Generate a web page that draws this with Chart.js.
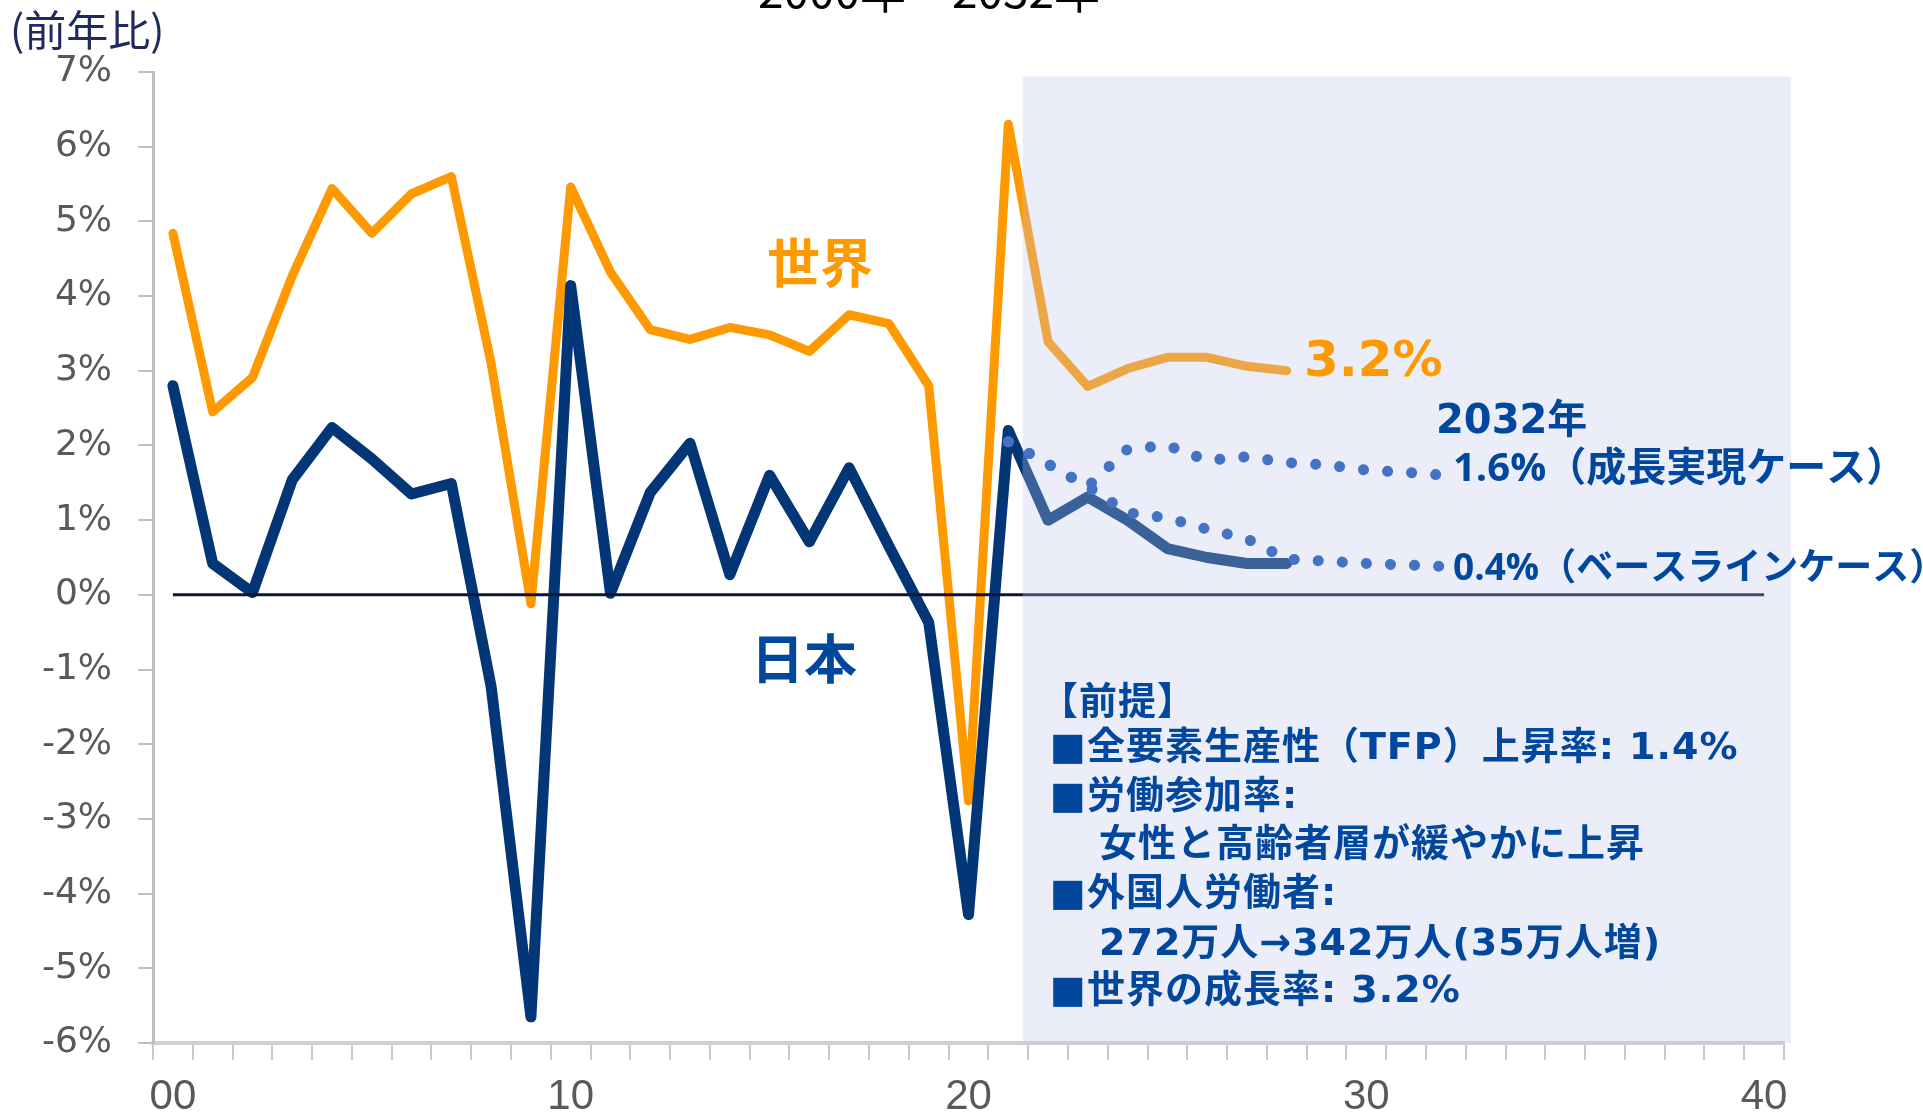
<!DOCTYPE html>
<html>
<head>
<meta charset="utf-8">
<script src="https://cdn.jsdelivr.net/npm/chart.js@4.4.1/dist/chart.umd.min.js"></script>
<style>
  html, body { margin: 0; padding: 0; background: #fff; }
</style>
</head>
<body>
<canvas id="chart" width="1923" height="1120"></canvas>
<script>
// categories: one per year, labelled every 10 years
const years = [2000, 2001, 2002, 2003, 2004, 2005, 2006, 2007, 2008, 2009,
  2010, 2011, 2012, 2013, 2014, 2015, 2016, 2017, 2018, 2019,
  2020, 2021, 2022, 2023, 2024, 2025, 2026, 2027, 2028, 2029,
  2030, 2031, 2032, 2033, 2034, 2035, 2036, 2037, 2038, 2039, 2040];
const xTickYears = [2000, 2010, 2020, 2030, 2040];
const yTicks = [-6, -5, -4, -3, -2, -1, 0, 1, 2, 3, 4, 5, 6, 7];

// world growth 2000-2028 (%)
const worldStart = 2000;
const worldGrowth = [4.84, 2.45, 2.91, 4.27, 5.44, 4.84, 5.37, 5.6, 3.1, -0.12,
  5.46, 4.32, 3.55, 3.42, 3.58, 3.48, 3.26, 3.75, 3.63, 2.8,
  -2.76, 6.3, 3.39, 2.79, 3.03, 3.18, 3.18, 3.06, 3.0];

// japan growth 2000-2028 (%)
const japanStart = 2000;
const japanGrowth = [2.8, 0.42, 0.03, 1.54, 2.24, 1.82, 1.35, 1.49, -1.23, -5.65,
  4.14, 0.02, 1.37, 2.03, 0.27, 1.6, 0.71, 1.7, 0.65, -0.37,
  -4.28, 2.2, 1.0, 1.31, 1.0, 0.62, 0.5, 0.42, 0.42];

// 2021-2032 scenarios (%)
const caseStart = 2021;
const growthCase = [2.05, 1.75, 1.45, 1.95, 2.0, 1.8, 1.85, 1.77, 1.74, 1.67, 1.64, 1.6];
const baselineCase = [2.05, 1.75, 1.45, 1.1, 1.03, 0.88, 0.75, 0.48, 0.45, 0.42, 0.4, 0.38];

const zeroLine = years.map(() => 0);

function onYears(start, values) {
  return years.map(y => {
    const i = y - start;
    return (i >= 0 && i < values.length) ? values[i] : null;
  });
}

const JP_FONT = '"Noto Sans CJK JP", "Noto Sans", sans-serif';
const MIX_FONT = '"Open Sans", "Noto Sans CJK JP", sans-serif';
const WIDE_FONT = '"DejaVu Sans", "Noto Sans CJK JP", sans-serif';
const NOTE_BLUE = '#00479D';
const ORANGE = '#FF9900';

// shaded forecast box, in scale units
const boxX0 = 21.36, boxX1 = 40.68, boxYTop = 6.94, boxYBottom = -6;

function text(ctx, s, x, y, font, color, align) {
  ctx.font = font;
  ctx.fillStyle = color;
  ctx.textAlign = align || 'left';
  ctx.textBaseline = 'middle';
  ctx.fillText(s, x, y);
}

const overlayPlugin = {
  id: 'overlay',
  afterDatasetDraw(chart, args) {
    // after zero line (index 2) -> tint everything below it, dotted lines stay on top
    if (args.index !== 2) return;
    const ctx = chart.ctx;
    const x = chart.scales.x, y = chart.scales.y;
    const l = x.getPixelForValue(boxX0), r = x.getPixelForValue(boxX1);
    const t = y.getPixelForValue(boxYTop), b = y.getPixelForValue(boxYBottom);
    ctx.save();
    ctx.fillStyle = 'rgba(188,198,231,0.3)';
    ctx.fillRect(l, t, r - l, b - t);
    ctx.restore();
  },
  afterDraw(chart) {
    const ctx = chart.ctx;
    ctx.save();
    // title, mostly cut off at the top
    ctx.font = '46px ' + JP_FONT;
    ctx.fillStyle = '#000';
    ctx.textAlign = 'center';
    ctx.textBaseline = 'alphabetic';
    ctx.fillText('2000年～2032年', 929, 8);

    text(ctx, '(前年比)', 10, 30, '42px ' + JP_FONT, '#1F2B5C');

    text(ctx, '世界', 820, 263, 'bold 53px ' + JP_FONT, ORANGE, 'center');
    text(ctx, '日本', 804, 659, 'bold 53px ' + JP_FONT, NOTE_BLUE, 'center');
    text(ctx, '3.2%', 1304, 363, 'bold 50px ' + WIDE_FONT, ORANGE);

    text(ctx, '2032年', 1436, 423, 'bold 40px ' + WIDE_FONT, NOTE_BLUE);
    text(ctx, '1.6%（成長実現ケース）', 1453, 470, 'bold 40px ' + MIX_FONT, NOTE_BLUE);
    text(ctx, '0.4%（ベースラインケース）', 1453, 569, 'bold 37px ' + MIX_FONT, NOTE_BLUE);

    const nf = 'bold 38px ' + WIDE_FONT;
    ctx.letterSpacing = '1px';
    text(ctx, '【前提】', 1040, 700, 'bold 38px ' + JP_FONT, NOTE_BLUE);
    text(ctx, '■全要素生産性（TFP）上昇率: 1.4%', 1050, 749, nf, NOTE_BLUE);
    text(ctx, '■労働参加率:', 1050, 798, nf, NOTE_BLUE);
    text(ctx, '女性と高齢者層が緩やかに上昇', 1099, 846, nf, NOTE_BLUE);
    text(ctx, '■外国人労働者:', 1050, 895, nf, NOTE_BLUE);
    text(ctx, '272万人→342万人(35万人増)', 1099, 945, nf, NOTE_BLUE);
    text(ctx, '■世界の成長率: 3.2%', 1050, 992, nf, NOTE_BLUE);
    ctx.restore();
  }
};

const dotted = {
  borderColor: '#4472C4',
  borderWidth: 11,
  borderDash: [0.1, 24],
  borderCapStyle: 'round',
  borderJoinStyle: 'round',
  pointRadius: 0,
  fill: false,
  tension: 0
};

new Chart(document.getElementById('chart'), {
  type: 'line',
  data: {
    labels: years,
    datasets: [
      Object.assign({ label: '成長実現ケース', data: onYears(caseStart, growthCase) }, dotted),
      Object.assign({ label: 'ベースラインケース', data: onYears(caseStart, baselineCase) }, dotted),
      { label: 'zero', data: zeroLine, borderColor: '#0E1530', borderWidth: 3, pointRadius: 0 },
      { label: '日本', data: onYears(japanStart, japanGrowth), borderColor: '#023676', borderWidth: 11,
        pointRadius: 0, borderCapStyle: 'round', borderJoinStyle: 'round' },
      { label: '世界', data: onYears(worldStart, worldGrowth), borderColor: ORANGE, borderWidth: 9,
        pointRadius: 0, borderCapStyle: 'round', borderJoinStyle: 'round' }
    ]
  },
  options: {
    responsive: false,
    animation: false,
    spanGaps: false,
    layout: { padding: { top: 72, right: 139, left: 0, bottom: 0 } },
    plugins: { legend: { display: false }, tooltip: { enabled: false } },
    scales: {
      x: {
        type: 'category',
        offset: true,
        afterFit: s => { s.height = 77; },
        grid: { offset: true, drawOnChartArea: false, color: '#C8C8C8', lineWidth: 2, tickLength: 17 },
        border: { color: '#D0D0D0', width: 4 },
        ticks: {
          autoSkip: false,
          maxRotation: 0,
          padding: 12,
          color: '#595959',
          font: { family: 'Liberation Sans', size: 42 },
          callback: function (v, i) {
            const yr = years[i];
            return xTickYears.includes(yr) ? String(yr).slice(2) : '';
          }
        }
      },
      y: {
        min: yTicks[0],
        max: yTicks[yTicks.length - 1],
        afterFit: s => { s.width = 153; },
        afterBuildTicks: s => { s.ticks = yTicks.map(v => ({ value: v })); },
        grid: { drawOnChartArea: false, color: '#BFBFBF', lineWidth: 2, tickLength: 15 },
        border: { color: '#BFBFBF', width: 3 },
        ticks: {
          autoSkip: false,
          padding: 26,
          color: '#595959',
          font: { family: 'DejaVu Sans', size: 36 },
          callback: v => v + '%'
        }
      }
    }
  },
  plugins: [overlayPlugin]
});
</script>
</body>
</html>
